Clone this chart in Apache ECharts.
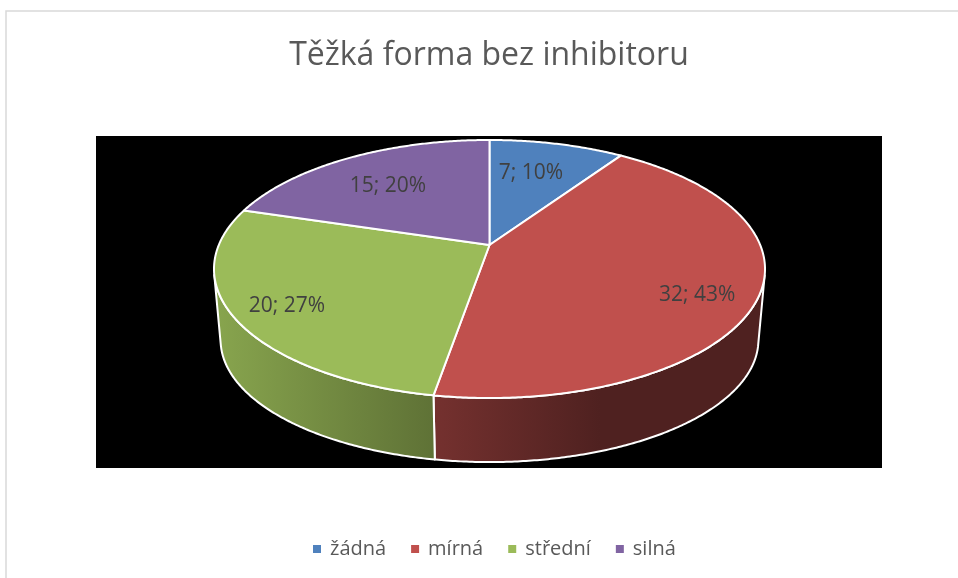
<!DOCTYPE html>
<html><head><meta charset="utf-8">
<style>html,body{margin:0;padding:0;background:#fff}#c{width:958px;height:578px}</style>
<script src="https://cdn.jsdelivr.net/npm/echarts@6/dist/echarts.min.js"></script>
</head><body><div id="c"></div>
<script>
const categories = ['žádná', 'mírná', 'střední', 'silná'];
const values = [7, 32, 20, 15];
const percents = [10, 43, 27, 20];
const colors = ['#4f81bd', '#c0504d', '#9bbb59', '#8064a2'];

// Layout of the tilted disc (perspective projection of a unit circle)
const CX = 489.5, APEX = 245, PA = 79, PC = -0.186, PD = 270.7;
const RIM_CY = 269, SX = 0.976, SY = 0.946, BASE_CY = 340;
const LABEL_R = 0.75;
const labelShift = [[-11, 7], [9, 13], [-16, 8], [7, 8.5]];
const wallShade = [[214, 0.88], [433, 0.61], [600, 0.41], [765, 0.41]];

const total = values.reduce((a, b) => a + b, 0);
const rad = d => d * Math.PI / 180;

function project(deg, r) {
  const u = r * Math.sin(rad(deg)), v = -r * Math.cos(rad(deg));
  const den = 1 + PC * v;
  return [CX + PD * u / den, (PA * v + APEX) / den];
}
function base(deg) {
  const p = project(deg, 1);
  return [CX + SX * (p[0] - CX), BASE_CY + SY * (p[1] - RIM_CY)];
}
function wallVisible(deg) {
  const a = project(deg, 1), b = project(deg + 0.1, 1), c = base(deg);
  const tx = b[0] - a[0], ty = b[1] - a[1], ex = c[0] - a[0], ey = c[1] - a[1];
  return tx * ey - ty * ex < 0;
}
function shadeGradient(hex) {
  const n = parseInt(hex.slice(1), 16), rgb = [n >> 16, (n >> 8) & 255, n & 255];
  const x0 = wallShade[0][0], x1 = wallShade[wallShade.length - 1][0];
  const stops = wallShade.map(s => ({
    offset: (s[0] - x0) / (x1 - x0),
    color: 'rgb(' + rgb.map(c => Math.round(c * s[1])).join(',') + ')'
  }));
  return new echarts.graphic.LinearGradient(x0, 0, x1, 0, stops, true);
}

function sliceRenderer(idx) {
  return function (params, api) {
    const val = api.value(0);
    const before = values.slice(0, idx).reduce((a, b) => a + b, 0);
    const a0 = before / total * 360, a1 = (before + val) / total * 360;
    const children = [];
    const arc = [];
    const vis = [];
    for (let d = a0; d <= a1 + 1e-6; d += 0.5) {
      arc.push(project(d, 1));
      if (wallVisible(d)) vis.push(d);
    }
    arc.push(project(a1, 1));
    if (wallVisible(a1)) vis.push(a1);
    if (vis.length > 1) {
      const top = vis.map(d => project(d, 1));
      const bot = vis.map(d => base(d)).reverse();
      children.push({
        type: 'polygon', z2: 1, silent: true,
        shape: { points: top.concat(bot) },
        style: { fill: shadeGradient(colors[idx]), stroke: '#fff', lineWidth: 2, lineJoin: 'round' }
      });
    }
    children.push({
      type: 'polygon', z2: 2, silent: true,
      shape: { points: [[CX, APEX]].concat(arc) },
      style: { fill: colors[idx], stroke: '#fff', lineWidth: 2, lineJoin: 'round' }
    });
    const lp = project((a0 + a1) / 2, LABEL_R);
    children.push({
      type: 'text', z2: 3, silent: true,
      x: lp[0] + labelShift[idx][0], y: lp[1] + labelShift[idx][1],
      style: {
        text: val + '; ' + percents[idx] + '%',
        fill: '#404040', font: '21px "Open Sans"',
        textAlign: 'center', textVerticalAlign: 'middle'
      }
    });
    return { type: 'group', children };
  };
}

const chart = echarts.init(document.getElementById('c'), null, { renderer: 'canvas' });
chart.setOption({
  animation: false,
  backgroundColor: '#fff',
  title: {
    text: 'Těžká forma bez inhibitoru',
    left: 484, top: 35, textAlign: 'center',
    textStyle: { color: '#595959', fontSize: 32, fontWeight: 'normal', fontFamily: 'Open Sans' }
  },
  legend: {
    data: categories, left: 308, top: 534, itemWidth: 8, itemHeight: 8, itemGap: 25, icon: 'rect',
    textStyle: { color: '#595959', fontSize: 20, fontFamily: 'Open Sans', padding: [0, 0, 0, 4] }
  },
  graphic: [
    { type: 'rect', z: -2, silent: true, shape: { x: 6, y: 11, width: 1200, height: 900 },
      style: { fill: '#fff', stroke: '#d9d9d9', lineWidth: 1.5 } },
    { type: 'rect', z: -1, silent: true, shape: { x: 96, y: 136, width: 786, height: 332 },
      style: { fill: '#000' } }
  ],
  series: categories.map((name, i) => ({
    type: 'custom', name, coordinateSystem: 'none',
    itemStyle: { color: colors[i] },
    renderItem: sliceRenderer(i),
    data: [[values[i]]]
  }))
});
</script></body></html>
